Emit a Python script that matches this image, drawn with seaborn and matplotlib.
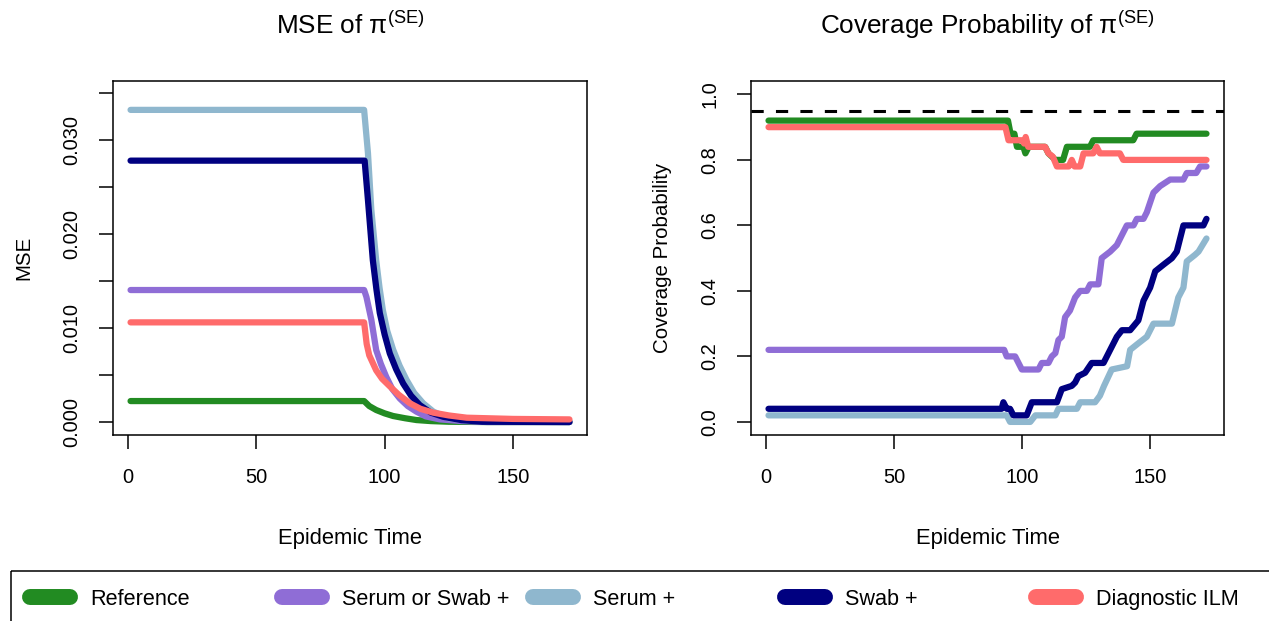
import numpy as np
import pandas as pd
import seaborn as sns
import matplotlib.pyplot as plt
from matplotlib.patches import Rectangle

sns.set_theme(style="white")
plt.rcParams['font.family'] = ['Liberation Sans', 'DejaVu Sans']
plt.rcParams['mathtext.fontset'] = 'custom'
plt.rcParams['mathtext.rm'] = 'Liberation Sans'
plt.rcParams['mathtext.it'] = 'Liberation Sans:italic'
plt.rcParams['text.color'] = 'black'
plt.rcParams['axes.labelcolor'] = 'black'

# Series names and colours (legend order = drawing order)
labels = ["Reference", "Serum or Swab +", "Serum +", "Swab +", "Diagnostic ILM"]
colors = ["#228B22", "#8F6DD6", "#8FB7CE", "#000080", "#FF6B6B"]

# MSE of pi(SE)
mse_ref_t = [1, 92, 94, 96.7, 100, 103.3, 108, 112.4, 118, 125, 140, 172]
mse_ref = [0.00223, 0.00223, 0.0017, 0.00128, 0.00092, 0.00064, 0.0004, 0.00021, 0.0001, 0.00003, 0.0, 0.0]
mse_sos_t = [1, 92, 92.9, 94.8, 96.7, 98.5, 100.6, 103, 105.9, 109, 112.4, 116, 121.5, 130, 140, 172]
mse_sos = [0.01404, 0.01404, 0.0133, 0.0109, 0.00766, 0.0062, 0.00482, 0.0035, 0.0025, 0.0017,
           0.0011, 0.0006, 0.00028, 0.0001, 0.0, 0.0]
mse_serum_t = [1, 92, 93.5, 94.8, 96.7, 98, 99.3, 101, 103.3, 105.8, 108.5, 111.5, 115, 119, 125, 132, 140, 172]
mse_serum = [0.0332, 0.0332, 0.0286, 0.0226, 0.0172, 0.0143, 0.0119, 0.0097, 0.0077, 0.006, 0.0045,
             0.0031, 0.002, 0.0011, 0.0004, 0.00015, 0.00005, 0.0]
mse_swab_t = [1, 92.2, 93.5, 95.4, 96.8, 98.1, 100, 102, 104.5, 107.2, 110.3, 113.7, 118, 122.8, 130, 138, 172]
mse_swab = [0.0278, 0.0278, 0.0236, 0.0172, 0.0141, 0.0116, 0.0093, 0.0073, 0.0056, 0.0041, 0.0028,
            0.0018, 0.001, 0.00056, 0.0002, 0.00003, 0.0]
mse_diag_t = [1, 92, 93, 94, 96.7, 99, 102, 105.5, 109.8, 114, 118.9, 125, 132, 150, 172]
mse_diag = [0.0106, 0.0106, 0.0083, 0.0071, 0.0055, 0.0046, 0.0038, 0.0029, 0.002, 0.0014,
            0.001, 0.0007, 0.00046, 0.00033, 0.00028]

# Coverage probability
cov_ref_t = [1, 94.5, 95.5, 97, 98, 100.5, 101.3, 102.6, 109, 110.3, 113, 116, 117.5,
             126.5, 127.8, 143.4, 144.7, 172]
cov_ref = [0.92, 0.92, 0.88, 0.88, 0.84, 0.84, 0.82, 0.84, 0.84, 0.82, 0.80, 0.80, 0.84,
           0.84, 0.86, 0.86, 0.88, 0.88]
cov_sos_t = [1, 93, 94, 97.3, 99.9, 106.4, 107.7, 110.3, 111.6, 113, 114.2, 115.5, 116.8,
             118.7, 120.7, 122.7, 125.3, 126.6, 129.8, 131.1, 134.4, 137, 140.9, 143.5,
             144.8, 147.4, 148.7, 151.3, 153.9, 157.8, 163, 164.3, 168, 169.5, 172]
cov_sos = [0.22, 0.22, 0.20, 0.20, 0.16, 0.16, 0.18, 0.18, 0.20, 0.21, 0.25, 0.26, 0.32,
           0.34, 0.38, 0.40, 0.40, 0.42, 0.42, 0.50, 0.52, 0.54, 0.60, 0.60,
           0.62, 0.62, 0.64, 0.70, 0.72, 0.74, 0.74, 0.76, 0.76, 0.78, 0.78]
cov_serum_t = [1, 94, 95.3, 103.2, 105.2, 113, 114.2, 121.4, 122.7, 128.5, 130.4, 132, 135,
               141, 142.2, 145.4, 148.7, 151.3, 158.5, 161, 163, 164.3, 167.5, 168.9, 172]
cov_serum = [0.02, 0.02, 0.00, 0.00, 0.02, 0.02, 0.04, 0.04, 0.06, 0.06, 0.08, 0.11, 0.16,
             0.17, 0.22, 0.24, 0.26, 0.30, 0.30, 0.38, 0.41, 0.49, 0.51, 0.52, 0.56]
cov_swab_t = [1, 92, 92.7, 94, 95.3, 96.6, 101.8, 103.8, 113.6, 115.5, 119.4, 120.7, 122,
              124.6, 127.2, 131.8, 134.4, 137, 139, 142.2, 145.4, 147.4, 150, 152, 155.2,
              158.5, 160.4, 163, 170.8, 172]
cov_swab = [0.04, 0.04, 0.06, 0.04, 0.04, 0.02, 0.02, 0.06, 0.06, 0.10, 0.11, 0.12, 0.14,
            0.15, 0.18, 0.18, 0.22, 0.26, 0.28, 0.28, 0.31, 0.37, 0.41, 0.46, 0.48,
            0.50, 0.52, 0.60, 0.60, 0.62]
cov_diag_t = [1, 93.5, 94.7, 100, 100.8, 101.4, 102.4, 109, 110.3, 112, 113.6, 118.2,
              119.4, 120.5, 122.7, 124, 127.8, 129.1, 130.4, 138.2, 139.5, 172]
cov_diag = [0.90, 0.90, 0.86, 0.86, 0.85, 0.87, 0.84, 0.84, 0.82, 0.81, 0.78, 0.78,
            0.80, 0.78, 0.78, 0.82, 0.82, 0.84, 0.82, 0.82, 0.80, 0.80]

target_coverage = 0.95


def long_frame(times, values):
    parts = []
    for name, t, v in zip(labels, times, values):
        parts.append(pd.DataFrame({'time': t, 'value': v, 'series': name}))
    return pd.concat(parts, ignore_index=True)


mse_df = long_frame([mse_ref_t, mse_sos_t, mse_serum_t, mse_swab_t, mse_diag_t],
                    [mse_ref, mse_sos, mse_serum, mse_swab, mse_diag])
cov_df = long_frame([cov_ref_t, cov_sos_t, cov_serum_t, cov_swab_t, cov_diag_t],
                    [cov_ref, cov_sos, cov_serum, cov_swab, cov_diag])

W, H = 1269, 621
fig = plt.figure(figsize=(W / 100, H / 100), dpi=100)
ax1 = fig.add_axes([113 / W, 1 - 435 / H, 474 / W, 353.7 / H])
ax2 = fig.add_axes([751 / W, 1 - 435 / H, 473 / W, 353.7 / H])

palette = dict(zip(labels, colors))
line_kw = dict(linewidth=4.5, solid_capstyle='round', solid_joinstyle='round')

sns.lineplot(data=mse_df, x='time', y='value', hue='series', hue_order=labels,
             palette=palette, estimator=None, sort=False, legend=False, ax=ax1, **line_kw)
sns.lineplot(data=cov_df, x='time', y='value', hue='series', hue_order=labels,
             palette=palette, estimator=None, sort=False, legend=False, ax=ax2, **line_kw)
ax2.axhline(target_coverage, color='black', linewidth=2.2, linestyle=(0, (4, 4)))

ax1.set_xlim(-5.84, 178.84)
ax2.set_xlim(-5.84, 178.84)
ax1.set_ylim(-0.00138, 0.03624)
ax2.set_ylim(-0.04, 1.04)

ax1.set_xticks([0, 50, 100, 150])
ax2.set_xticks([0, 50, 100, 150])
mse_ticks = np.arange(0, 0.0351, 0.005)
ax1.set_yticks(mse_ticks)
ax1.set_yticklabels([f"{v:.3f}" if i % 2 == 0 else "" for i, v in enumerate(mse_ticks)])
cov_ticks = [0.0, 0.2, 0.4, 0.6, 0.8, 1.0]
ax2.set_yticks(cov_ticks)
ax2.set_yticklabels([f"{v:.1f}" for v in cov_ticks])

titles = ["MSE of π$^{\\mathrm{(SE)}}$", "Coverage Probability of π$^{\\mathrm{(SE)}}$"]
ylabels = ["MSE", "Coverage Probability"]
for ax, title, ylab in zip([ax1, ax2], titles, ylabels):
    ax.set_title(title, fontsize=18.8, pad=34, color='black')
    ax.set_xlabel("Epidemic Time", fontsize=15.8)
    ax.set_ylabel(ylab, fontsize=14.8)
    ax.xaxis.set_label_coords(0.5, -0.262)
    ax.yaxis.set_label_coords(-0.168, 0.5)
    ax.tick_params(axis='both', direction='out', length=10, width=1.1,
                   labelsize=14.4, colors='black', bottom=True, left=True)
    ax.tick_params(axis='x', pad=14)
    ax.tick_params(axis='y', pad=13)
    for lab in ax.get_yticklabels():
        lab.set_rotation(90)
        lab.set_va('center')
    for sp in ax.spines.values():
        sp.set_color('black')
        sp.set_linewidth(1.1)
    ax.grid(False)

# Legend box along the bottom edge
lax = fig.add_axes([0, 0, 1, 1], zorder=-1)
lax.set_xlim(0, W)
lax.set_ylim(H, 0)
lax.axis('off')
lax.add_patch(Rectangle((10.7, 570.7), 1400, 100, fill=False, edgecolor='black',
                        linewidth=1.1, clip_on=False))
pitch = 251.6
for i, (name, col) in enumerate(zip(labels, colors)):
    x0 = 30 + pitch * i
    lax.plot([x0, x0 + 40], [596.5, 596.5], color=col, linewidth=11.5,
             solid_capstyle='round')
    lax.text(x0 + 60, 605, name, va='baseline', ha='left', fontsize=15.6)

fig.savefig('out.png', dpi=100, facecolor='white')
